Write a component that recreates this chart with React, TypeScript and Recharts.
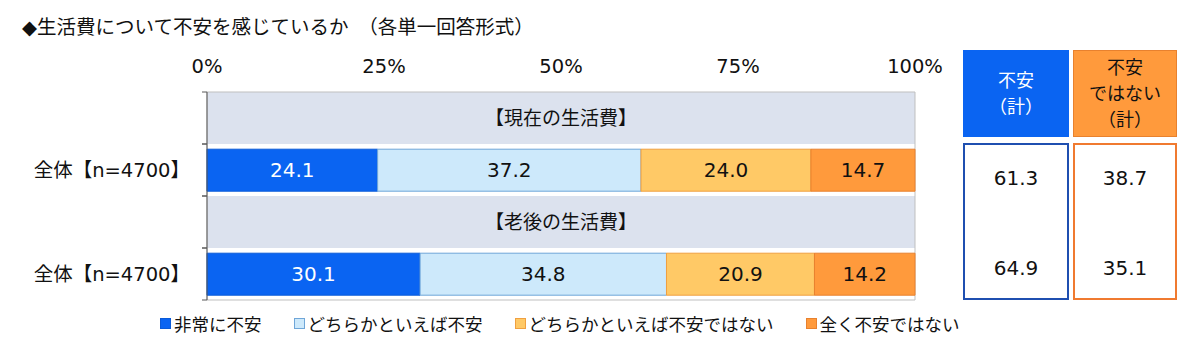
import { BarChart, Bar, XAxis, YAxis, ReferenceArea, LabelList } from 'recharts';

// rows: section header, data row, section header, data row
const rowKeys = ['h1', 'r1', 'h2', 'r2'];
const rowLabels = ['', '全体【n=4700】', '', '全体【n=4700】'];
const sectionTitles = ['【現在の生活費】', '【老後の生活費】'];
const seriesNames = ['非常に不安', 'どちらかといえば不安', 'どちらかといえば不安ではない', '全く不安ではない'];
const veryAnxious = [null, 24.1, null, 30.1];
const somewhatAnxious = [null, 37.2, null, 34.8];
const somewhatNotAnxious = [null, 24.0, null, 20.9];
const notAnxiousAtAll = [null, 14.7, null, 14.2];
const anxiousTotal = [61.3, 64.9];
const notAnxiousTotal = [38.7, 35.1];
const xTicks = [0, 25, 50, 75, 100];

const fills = ['#0a64f2', '#cde9fb', '#ffc966', '#ff9a3c'];
const strokes = ['#0a5ad8', '#6fa6d8', '#f0a040', '#e8812e'];
const labelColors = ['#fff', '#111', '#111', '#111'];

const data = rowKeys.map((key, i) => ({
  key,
  s0: veryAnxious[i],
  s1: somewhatAnxious[i],
  s2: somewhatNotAnxious[i],
  s3: notAnxiousAtAll[i],
}));

const fmt = (v: any) => (v == null ? '' : Number(v).toFixed(1));

const RowTick = (props: any) => {
  const { x, y, payload } = props;
  const label = rowLabels[rowKeys.indexOf(payload.value)];
  return (
    <g>
      <line x1={x - 5} x2={x} y1={y - 26} y2={y - 26} stroke="#595959" />
      <line x1={x - 5} x2={x} y1={y + 26} y2={y + 26} stroke="#595959" />
      {label && (
        <text x={x - 17} y={y} dy="0.36em" textAnchor="end" fontSize={19.5} fill="#111">
          {label}
        </text>
      )}
    </g>
  );
};

export default function App() {
  return (
    <div
      style={{
        position: 'absolute',
        left: 0,
        top: 0,
        width: 1200,
        height: 357,
        background: '#fff',
        fontFamily: "'DejaVu Sans', 'Noto Sans CJK JP', sans-serif",
        color: '#111',
      }}
    >
      <div style={{ position: 'absolute', left: 22, top: 14, fontSize: 19.5, lineHeight: '28px' }}>
        ◆生活費について不安を感じているか　（各単一回答形式）
      </div>

      <BarChart
        width={960}
        height={357}
        data={data}
        layout="vertical"
        barCategoryGap="10%"
        margin={{ top: 52, right: 45, bottom: 57, left: 0 }}
        style={{ position: 'absolute', left: 0, top: 0 }}
      >
        <XAxis
          type="number"
          orientation="top"
          domain={[0, 100]}
          ticks={xTicks}
          tickFormatter={(v) => `${v}%`}
          axisLine={false}
          tickLine={false}
          tickSize={0}
          tickMargin={19}
          height={40}
          tick={{ fill: '#111', fontSize: 19.5 }}
        />
        <YAxis
          type="category"
          dataKey="key"
          width={207}
          axisLine={{ stroke: '#595959' }}
          tickLine={false}
          tickSize={0}
          tickMargin={0}
          tick={<RowTick />}
        />
        <ReferenceArea
          y1="h1"
          y2="h1"
          x1={0}
          x2={100}
          fill="#dce2ee"
          fillOpacity={1}
          label={{ value: sectionTitles[0], position: 'center', fill: '#111', fontSize: 19 }}
        />
        <ReferenceArea
          y1="h2"
          y2="h2"
          x1={0}
          x2={100}
          fill="#dce2ee"
          fillOpacity={1}
          label={{ value: sectionTitles[1], position: 'center', fill: '#111', fontSize: 19 }}
        />
        {['s0', 's1', 's2', 's3'].map((k, i) => (
          <Bar
            key={k}
            dataKey={k}
            name={seriesNames[i]}
            stackId="a"
            fill={fills[i]}
            stroke={strokes[i]}
            strokeWidth={1}
            isAnimationActive={false}
          >
            <LabelList dataKey={k} position="center" fill={labelColors[i]} fontSize={20} formatter={fmt} />
          </Bar>
        ))}
        <ReferenceArea x1={0} x2={100} fill="none" stroke="#bfbfbf" />
      </BarChart>

      {/* summary boxes */}
      <div
        style={{
          position: 'absolute', left: 963, top: 50, width: 106, height: 87, background: '#0a64f2',
          color: '#fff', fontSize: 18, lineHeight: '26px', display: 'flex', flexDirection: 'column',
          alignItems: 'center', justifyContent: 'center',
        }}
      >
        <div>不安</div>
        <div>（計）</div>
      </div>
      <div
        style={{
          position: 'absolute', left: 1073, top: 50, width: 102, height: 85, background: '#ff9a3c',
          border: '1px solid #e8812e', color: '#111', fontSize: 18, lineHeight: '26px', display: 'flex',
          flexDirection: 'column', alignItems: 'center', justifyContent: 'center',
        }}
      >
        <div>不安</div>
        <div>ではない</div>
        <div>（計）</div>
      </div>
      <div
        style={{
          position: 'absolute', left: 963, top: 143, width: 102, height: 153, border: '2px solid #1f4fb0',
        }}
      >
        {anxiousTotal.map((v, i) => (
          <div key={i} style={{ position: 'absolute', left: 0, right: 0, top: i === 0 ? 21 : 111, textAlign: 'center', fontSize: 20 }}>
            {v.toFixed(1)}
          </div>
        ))}
      </div>
      <div
        style={{
          position: 'absolute', left: 1073, top: 143, width: 100, height: 153, border: '2px solid #f07a30',
        }}
      >
        {notAnxiousTotal.map((v, i) => (
          <div key={i} style={{ position: 'absolute', left: 0, right: 0, top: i === 0 ? 21 : 111, textAlign: 'center', fontSize: 20 }}>
            {v.toFixed(1)}
          </div>
        ))}
      </div>

      {/* legend */}
      <div style={{ position: 'absolute', left: 160, top: 311, display: 'flex', alignItems: 'center', fontSize: 17.5 }}>
        {seriesNames.map((n, i) => (
          <div key={n} style={{ display: 'flex', alignItems: 'center', marginRight: 32 }}>
            <span
              style={{
                display: 'inline-block', width: 9, height: 9, background: fills[i],
                border: `1px solid ${strokes[i]}`, marginRight: 3,
              }}
            />
            <span>{n}</span>
          </div>
        ))}
      </div>
    </div>
  );
}
